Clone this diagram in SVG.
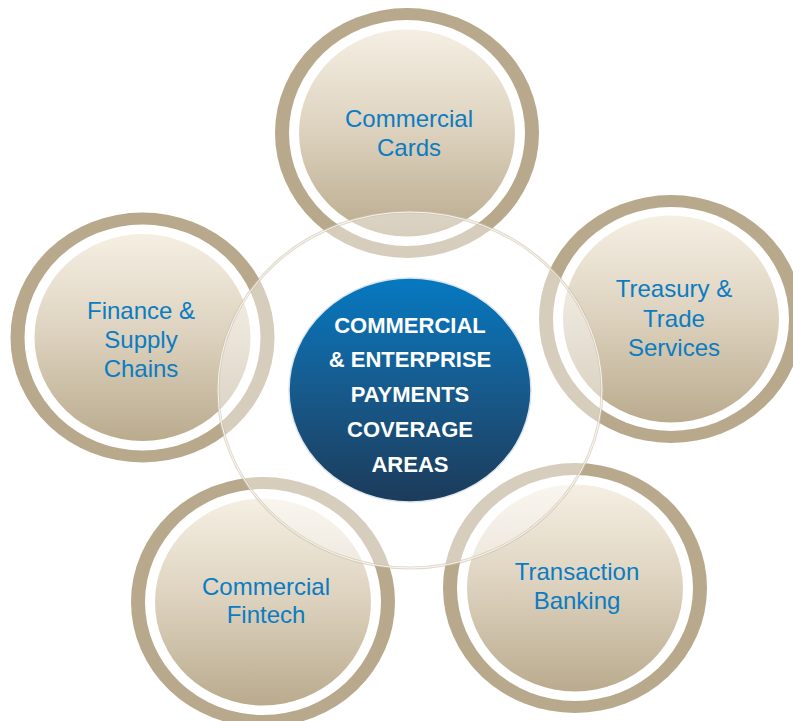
<svg xmlns="http://www.w3.org/2000/svg" width="793" height="721" viewBox="0 0 793 721">
  <defs>
    <linearGradient id="tan" x1="0" y1="0" x2="0" y2="1">
      <stop offset="0" stop-color="#f5efe3"/>
      <stop offset="0.5" stop-color="#dcd1bd"/>
      <stop offset="1" stop-color="#baab8e"/>
    </linearGradient>
    <linearGradient id="blue" x1="0" y1="0" x2="0" y2="1">
      <stop offset="0" stop-color="#0679c1"/>
      <stop offset="0.5" stop-color="#175a8c"/>
      <stop offset="1" stop-color="#1c3b5a"/>
    </linearGradient>
    <style>
      .ring { fill: #b8a98c; }
      .gap { fill: #ffffff; }
      .core { fill: url(#tan); }
      .lbl { font-family: "Liberation Sans", Arial, sans-serif; font-size: 24px; fill: #0b7cc2; text-anchor: middle; }
      .ctr { font-family: "Liberation Sans", Arial, sans-serif; font-size: 22px; font-weight: bold; fill: #ffffff; text-anchor: middle; }
    </style>
  </defs>
  <rect width="793" height="721" fill="#ffffff"/>

  <g id="node-commercial-cards">
    <ellipse class="ring" cx="407" cy="133" rx="132" ry="125"/>
    <ellipse class="gap" cx="407" cy="133" rx="118" ry="113"/>
    <ellipse class="core" cx="407" cy="133" rx="108" ry="103.5"/>
    <text class="lbl" x="409" y="127">Commercial</text>
    <text class="lbl" x="409" y="156">Cards</text>
  </g>

  <g id="node-finance-supply">
    <ellipse class="ring" cx="142.5" cy="337.5" rx="132" ry="125"/>
    <ellipse class="gap" cx="142.5" cy="337.5" rx="118" ry="113"/>
    <ellipse class="core" cx="142.5" cy="337.5" rx="108" ry="103.5"/>
    <text class="lbl" x="141" y="319">Finance &amp;</text>
    <text class="lbl" x="141" y="348">Supply</text>
    <text class="lbl" x="141" y="377">Chains</text>
  </g>

  <g id="node-treasury-trade">
    <ellipse class="ring" cx="671" cy="319" rx="132" ry="124"/>
    <ellipse class="gap" cx="671" cy="319" rx="118" ry="112"/>
    <ellipse class="core" cx="671" cy="319" rx="108" ry="103.5"/>
    <text class="lbl" x="674" y="297">Treasury &amp;</text>
    <text class="lbl" x="674" y="327">Trade</text>
    <text class="lbl" x="674" y="356">Services</text>
  </g>

  <g id="node-transaction-banking">
    <ellipse class="ring" cx="575" cy="588" rx="132" ry="125"/>
    <ellipse class="gap" cx="575" cy="588" rx="118" ry="113"/>
    <ellipse class="core" cx="575" cy="588" rx="108" ry="103.5"/>
    <text class="lbl" x="577" y="580">Transaction</text>
    <text class="lbl" x="577" y="609">Banking</text>
  </g>

  <g id="node-commercial-fintech">
    <ellipse class="ring" cx="263" cy="602" rx="132" ry="125"/>
    <ellipse class="gap" cx="263" cy="602" rx="118" ry="113"/>
    <ellipse class="core" cx="263" cy="602" rx="108" ry="103.5"/>
    <text class="lbl" x="266" y="595">Commercial</text>
    <text class="lbl" x="266" y="623">Fintech</text>
  </g>

  <g id="overlay-ring">
    <ellipse cx="410" cy="390" rx="192" ry="178" fill="#ffffff" fill-opacity="0.42" stroke="#cdc1ab" stroke-opacity="0.6" stroke-width="3"/>
    <ellipse cx="410" cy="390" rx="192" ry="178" fill="none" stroke="#ffffff" stroke-opacity="0.8" stroke-width="1"/>
  </g>

  <g id="node-center">
    <ellipse cx="410" cy="390" rx="121" ry="112" fill="url(#blue)" stroke="#dbe5ee" stroke-width="1.5"/>
    <text class="ctr" x="410" y="333">COMMERCIAL</text>
    <text class="ctr" x="410" y="367">&amp; ENTERPRISE</text>
    <text class="ctr" x="410" y="402">PAYMENTS</text>
    <text class="ctr" x="410" y="437">COVERAGE</text>
    <text class="ctr" x="410" y="472">AREAS</text>
  </g>
</svg>
